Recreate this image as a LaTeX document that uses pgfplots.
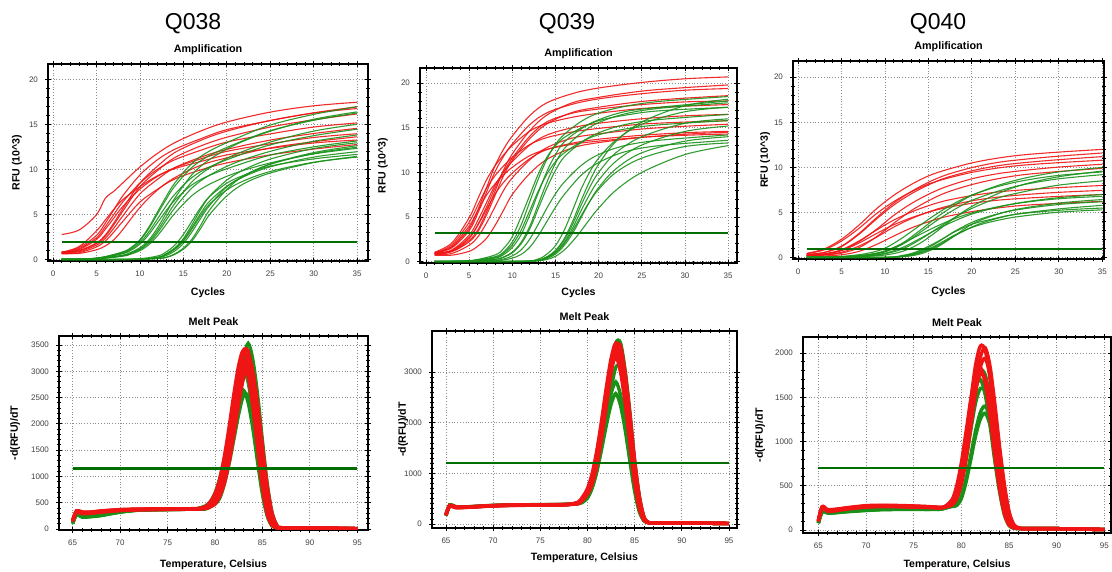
\documentclass[border=0pt]{standalone}
\usepackage{fontspec}
\setmainfont{Liberation Sans}
\usepackage{pgfplots}
\usepackage{pgfplotstable}
\pgfplotsset{compat=1.18}

\definecolor{cred}{RGB}{240,20,20}
\definecolor{cgreen}{RGB}{25,145,25}
\definecolor{thrgreen}{RGB}{0,110,0}

\pgfplotsset{
  qpcr/.style={
    scale only axis, anchor=south west,
    axis line style={line width=0.75pt},
    grid=major, major grid style={densely dotted, black!45, line width=0.4pt},
    tick align=center, tick style={black, line width=0.4pt},
    major tick length=3pt, minor tick length=1.6pt,
    ticklabel style={font=\fontsize{4}{5}\selectfont, text=black!75},
    /pgf/number format/assume math mode=true,
    /pgf/number format/set thousands separator={},
    scaled ticks=false,
    title style={font=\bfseries\fontsize{5.4}{6}\selectfont, at={(0.5,1)}, anchor=center, yshift=1pt},
    label style={font=\bfseries\fontsize{5.3}{6}\selectfont, anchor=center},
  },
  amp/.style={qpcr, xtick={0,5,...,35}, ytick={0,5,...,20}, minor x tick num=4, minor y tick num=4,
    title=Amplification, xlabel=Cycles, ylabel={RFU (10\textasciicircum 3)}},
  melt/.style={qpcr, xtick={65,70,...,95}, minor x tick num=4,
    title=Melt Peak, xlabel={Temperature, Celsius}, ylabel={-d(RFU)/dT}},
  rc/.style={cred, line width=0.55pt, smooth, tension=0.55, no markers, opacity=0.9},
  gc/.style={cgreen, line width=0.55pt, smooth, tension=0.55, no markers, opacity=0.9},
  rm/.style={cred, line width=1.7pt, smooth, tension=0.5, no markers},
  gm/.style={cgreen, line width=1.7pt, smooth, tension=0.5, no markers},
  thr/.style={thrgreen, line width=1.1pt, no markers},
}

% ---------- Q038 amplification ----------
\pgfplotstableread{
x   r1   r2    r3    r4    r5    r6    r7    r8    r9    r10
1   2.8  0.84  0.80  0.76  0.73  0.70  0.80  0.64  0.69  0.85
3   3.3  1.34  0.97  1.22  0.88  1.12  1.46  0.77  0.69  1.02
5   5.0  2.69  1.78  2.43  1.61  2.24  3.19  1.41  1.10  1.87
6   6.8  4.03  2.59  3.65  2.34  3.36  4.39  2.05  1.52  2.72
7   7.6  5.54  3.89  5.02  3.50  4.62  5.59  3.07  2.21  4.08
8   8.5  7.06  5.35  6.38  4.82  5.88  6.65  4.22  3.31  5.61
10  10.3 9.41  8.10  8.51  7.30  7.84  8.11  6.40  5.80  8.50
12  11.8 11.09 9.88  10.03 8.91  9.24  9.31  7.81  7.73  10.37
14  13.0 12.26 11.34 11.10 10.22 10.22 10.11 8.96  9.11  11.90
17  14.3 13.44 12.64 12.16 11.39 11.20 10.91 9.98  10.49 13.26
20  15.3 14.45 13.61 13.07 12.26 12.04 11.64 10.75 11.32 14.28
25  16.4 15.46 14.74 13.98 13.29 12.88 12.37 11.65 12.42 15.47
30  17.1 16.30 15.55 14.74 14.02 13.58 12.97 12.29 13.11 16.32
35  17.5 16.80 16.20 15.20 14.60 14.00 13.30 12.80 13.66 17.00
}\ampAr
\pgfplotstableread{
x   g1    g2    g3    g4    g5    g6    g7    g8
1   0.05  0.05  0.05  0.04  0.04  0.04  0.04  0.05
5   0.17  0.16  0.12  0.15  0.13  0.10  0.11  0.13
8   0.85  0.82  0.46  0.73  0.66  0.38  0.42  0.50
9   1.36  1.30  0.76  1.16  1.06  0.63  0.70  0.83
10  2.21  2.12  1.22  1.89  1.72  1.00  1.12  1.33
11  3.57  3.42  1.98  3.05  2.77  1.63  1.82  2.16
12  5.27  5.05  3.19  4.50  4.09  2.63  2.94  3.49
13  6.97  6.68  4.71  5.95  5.41  3.88  4.34  5.15
14  8.50  8.15  6.23  7.25  6.60  5.13  5.74  6.81
16  10.71 10.27 8.66  9.14  8.32  7.13  7.98  9.46
18  12.07 11.57 10.18 10.30 9.37  8.38  9.38  11.12
21  13.43 12.88 11.70 11.46 10.43 9.63  10.78 12.78
25  14.96 14.34 13.07 12.76 11.62 10.75 12.04 14.28
30  16.15 15.49 14.29 13.78 12.54 11.75 13.16 15.60
35  17.00 16.30 15.05 14.50 13.20 12.38 13.86 16.43
}\ampAg
\pgfplotstableread{
x   h1    h2    h3    h4    h5    h6    h7
1   0     0     0     0     0     0     0
9   0.04  0.03  0.04  0.02  0.03  0.02  0.05
12  0.26  0.20  0.24  0.12  0.23  0.13  0.40
13  0.65  0.45  0.60  0.23  0.57  0.26  0.85
14  1.30  0.95  1.20  0.58  1.14  0.64  1.60
15  2.34  1.80  2.16  1.16  2.05  1.28  2.80
16  3.90  3.10  3.60  2.09  3.42  2.30  4.30
17  5.59  4.60  5.16  3.48  4.90  3.84  5.80
18  7.02  6.00  6.48  4.99  6.16  5.50  7.00
20  8.84  8.10  8.16  7.08  7.75  7.81  8.50
22  10.01 9.30  9.24  8.47  8.78  9.34  9.40
25  11.18 10.60 10.32 9.63  9.80  10.62 10.40
30  12.35 11.80 11.40 10.79 10.83 11.90 11.20
35  13.00 12.50 12.00 11.48 11.40 12.67 11.70
}\ampAh

% ---------- Q039 amplification ----------
\pgfplotstableread{
x   q1    q2    q3    q4    q5    q6    q7    q8    q9    q10   q11   q12
1   1.04  0.99  0.97  0.93  1.06  0.83  0.77  0.73  0.86  0.73  0.90  0.95
3   1.66  1.19  1.55  1.12  2.11  1.32  0.92  1.17  1.72  0.73  1.26  1.90
5   3.73  2.38  3.49  2.23  4.93  2.97  1.85  2.63  4.00  1.16  2.70  4.42
6   5.80  3.56  5.43  3.35  7.04  4.62  2.77  4.09  5.72  1.74  4.14  6.32
7   8.28  5.54  7.76  5.21  9.15  6.60  4.31  5.84  7.44  2.61  6.12  8.22
8   10.76 7.92  10.09 7.44  10.74 8.58  6.16  7.59  8.72  4.06  8.28  9.64
9   12.63 10.30 11.83 9.67  11.97 10.07 8.01  8.91  9.72  5.80  10.08 10.74
10  14.08 12.08 13.19 11.35 13.02 11.22 9.39  9.93  10.58 7.54  11.61 11.69
12  16.35 14.65 15.33 13.76 14.61 13.04 11.40 11.53 11.87 9.86  14.04 13.11
14  17.80 16.43 16.68 15.44 15.49 14.19 12.78 12.56 12.58 11.46 15.66 13.90
17  18.84 17.82 17.65 16.74 16.19 15.02 13.86 13.29 13.16 12.76 16.65 14.54
20  19.46 18.41 18.24 17.30 16.63 15.51 14.32 13.72 13.51 13.34 17.10 14.93
25  20.08 19.11 18.82 17.95 17.16 16.01 14.86 14.16 13.94 13.92 17.60 15.41
30  20.49 19.50 19.21 18.32 17.42 16.34 15.17 14.45 14.16 14.28 17.90 15.64
35  20.70 19.80 19.40 18.60 17.60 16.50 15.40 14.60 14.30 14.50 18.00 15.80
}\ampBr
\pgfplotstableread{
x   e1    e2    e3    e4    e5    e6    e7    e8
1   0.04  0.04  0.04  0.03  0.03  0.03  0.04  0.03
5   0.09  0.08  0.10  0.07  0.08  0.05  0.07  0.04
8   0.56  0.40  0.75  0.25  0.47  0.15  0.27  0.10
9   1.11  0.80  1.50  0.50  0.95  0.30  0.53  0.20
10  2.22  1.60  2.80  0.99  1.90  0.65  1.07  0.40
11  4.07  3.00  5.00  1.98  3.48  1.30  2.14  0.80
12  6.66  5.20  7.40  3.63  5.69  2.50  3.92  1.60
13  9.25  7.70  9.80  5.94  7.90  4.20  6.41  2.90
14  11.47 10.10 11.70 8.25  9.80  6.00  8.90  4.50
15  13.14 12.00 13.00 10.23 11.22 7.60  11.04 6.10
16  14.25 13.40 13.90 11.72 12.17 8.90  12.64 7.50
18  15.73 14.90 15.00 13.37 13.43 10.80 14.42 9.70
20  16.65 15.90 15.80 14.44 14.22 12.00 15.58 11.10
23  17.39 16.80 16.40 15.35 14.85 13.00 16.55 12.30
27  17.95 17.30 16.90 15.92 15.33 13.60 17.18 13.00
35  18.50 18.00 17.30 16.50 15.80 14.20 17.80 13.60
}\ampBg
\pgfplotstableread{
x   l1    l2    l3    l4    l5    l6    l7
1   0     0     0     0     0     0     0
11  0.04  0.05  0.03  0.02  0.02  0.03  0.02
13  0.18  0.30  0.18  0.12  0.15  0.15  0.10
14  0.55  0.85  0.50  0.35  0.45  0.46  0.25
15  1.27  1.80  1.20  0.85  1.00  1.06  0.60
16  2.55  3.50  2.40  1.80  2.00  2.13  1.30
17  4.55  5.80  4.20  3.20  3.50  3.80  2.30
18  6.92  8.20  6.40  5.00  5.20  5.78  3.50
19  9.10  10.10 8.40  6.80  6.80  7.60  4.80
20  10.92 11.60 10.00 8.30  8.10  9.12  6.00
22  13.47 13.60 12.20 10.40 10.00 11.25 8.00
25  15.65 15.40 14.00 12.20 11.60 13.07 10.00
30  17.47 16.80 15.50 13.50 12.90 14.59 12.00
35  18.20 17.30 16.00 14.00 13.30 15.20 13.00
}\ampBh

% ---------- Q040 amplification ----------
\pgfplotstableread{
x   s1    s2    s3    s4    s5    s6    s7    s8    s9    s10
1   0.48  0.34  0.43  0.31  0.25  0.24  0.23  0.20  0.35  0.21
3   0.96  0.56  0.86  0.42  0.30  0.40  0.30  0.19  0.58  0.35
5   2.04  1.23  1.84  0.83  0.50  0.88  0.60  0.32  1.28  0.77
7   3.60  2.58  3.24  1.77  1.10  1.84  1.28  0.69  2.67  1.61
9   5.40  4.26  4.86  3.12  2.30  3.04  2.25  1.45  4.41  2.66
11  6.90  5.82  6.21  4.68  3.80  4.16  3.38  2.39  6.03  3.64
13  8.10  7.06  7.29  5.98  5.20  5.04  4.31  3.28  7.31  4.41
15  9.06  8.06  8.15  7.02  6.30  5.76  5.06  3.97  8.35  5.04
17  9.72  8.85  8.75  7.85  7.20  6.32  5.66  4.54  9.16  5.53
20  10.50 9.63  9.45  8.74  8.10  6.88  6.30  5.10  9.98  6.02
23  11.04 10.19 9.94  9.31  8.75  7.28  6.71  5.51  10.56 6.37
26  11.40 10.53 10.26 9.67  9.20  7.52  6.98  5.80  10.90 6.58
30  11.70 10.86 10.53 10.04 9.55  7.76  7.24  6.02  11.25 6.79
35  12.00 11.20 10.80 10.35 9.90  8.00  7.46  6.24  11.60 7.00
}\ampCr
\pgfplotstableread{
x   f1    f2    f3    f4    f5    f6    f7
1   0.05  0.06  0.05  0.04  0.04  0.04  0.05
5   0.10  0.14  0.09  0.07  0.07  0.10  0.08
8   0.30  0.48  0.28  0.17  0.21  0.34  0.15
10  0.70  1.05  0.64  0.43  0.49  0.75  0.29
12  1.60  2.19  1.47  0.95  1.12  1.56  0.69
14  3.00  3.56  2.76  1.98  2.10  2.55  1.57
16  4.50  4.89  4.14  3.23  3.15  3.50  2.94
18  5.80  6.03  5.34  4.43  4.06  4.32  4.41
20  6.90  6.94  6.35  5.46  4.83  4.96  5.68
23  8.00  7.89  7.36  6.62  5.60  5.64  7.10
26  8.80  8.55  8.10  7.31  6.16  6.12  8.13
30  9.50  9.12  8.74  8.04  6.65  6.53  8.97
35  10.00 9.50  9.20  8.51  7.00  6.80  9.60
}\ampCg
\pgfplotstableread{
x   k1    k2    k3    k4    k5
1   0     0     0     0     0
10  0.03  0.02  0.04  0.02  0.03
12  0.19  0.12  0.25  0.10  0.16
13  0.37  0.25  0.45  0.20  0.32
14  0.68  0.50  0.80  0.39  0.58
15  1.12  0.85  1.25  0.72  0.95
16  1.67  1.30  1.75  1.17  1.43
17  2.29  1.85  2.30  1.76  1.96
18  2.91  2.40  2.85  2.41  2.49
20  3.91  3.40  3.70  3.71  3.34
22  4.59  4.10  4.20  4.50  3.92
25  5.27  4.80  4.80  5.33  4.50
30  5.89  5.40  5.25  6.05  5.04
35  6.20  5.80  5.50  6.44  5.30
}\ampCh

% ---------- melt peaks ----------
\pgfplotstableread{
x     r1   r2   r3   r4   r5   r6
65    150  170  140  160  150  145
65.4  330  340  320  335  345  325
66    300  320  290  310  325  300
67    310  320  300  315  325  305
68    330  340  320  335  345  325
70    360  365  350  362  370  355
72    370  375  365  372  380  368
75    375  380  372  378  385  374
77    378  380  375  380  385  378
78    385  385  380  383  388  382
79    400  390  415  400  390  425
79.5  460  425  485  445  420  515
80    570  500  630  510  475  670
80.5  780  650  900  700  620  950
81    1145 925  1310 1025 880  1390
81.5  1665 1350 1845 1490 1285 1955
82    2290 1900 2425 2045 1805 2575
82.5  2910 2500 2935 2605 2375 3115
83    3380 3025 3200 3020 2875 3400
83.5  3380 3300 2910 3020 3135 3090
84    2860 3000 2305 2560 2850 2445
84.5  2080 2375 1530 1860 2255 1620
85    1195 1575 800  1070 1495 850
85.5  520  825  300  465  785  320
86    125  310  75   110  295  75
86.5  30   75   25   30   70   25
87    20   25   20   20   25   20
90    18   20   18   18   20   18
95    5    8    5    5    8    5
}\meltAr
\pgfplotstableread{
x     g1   g2   g3   g4   g5
65    110  120  100  115  105
65.4  280  290  270  285  275
66    235  245  225  240  230
67    245  250  235  248  240
68    265  270  255  268  260
70    325  330  320  328  322
72    362  365  358  364  360
75    372  374  370  373  371
77    376  378  375  377  376
78    380  382  380  381  380
79    380  400  430  400  440
79.5  425  440  480  430  520
80    535  485  600  470  680
80.5  695  660  800  585  960
81    990  970  1120 860  1350
81.5  1445 1410 1560 1250 1830
82    2035 1935 2000 1715 2380
82.5  2675 2465 2420 2185 2830
83    3235 2860 2640 2535 3070
83.5  3530 2860 2400 2535 2790
84    3210 2420 1900 2145 2210
84.5  2540 1760 1260 1560 1465
85    1685 1010 660  900  770
85.5  880  440  250  390  290
86    330  105  60   95   70
86.5  80   30   25   30   25
87    25   20   20   20   20
90    18   18   18   18   18
95    5    5    5    5    5
}\meltAg
\pgfplotstableread{
x     r1   r2   r3   r4   r5
65    180  190  170  185  175
65.4  360  370  355  365  350
66    330  340  325  335  322
67    330  335  328  332  326
68    340  345  338  342  336
70    360  365  358  362  356
72    370  375  368  372  366
75    375  380  374  378  372
77    380  382  378  381  377
78    385  388  384  386  383
79    430  400  425  400  425
79.5  540  475  520  485  500
80    700  585  675  595  650
80.5  1000 795  960  810  925
81    1460 1165 1405 1190 1350
81.5  2050 1695 1975 1730 1900
82    2700 2330 2600 2375 2500
82.5  3265 2970 3145 3025 3025
83    3565 3445 3430 3510 3300
83.5  3240 3445 3120 3510 3000
84    2565 2915 2470 2970 2375
84.5  1700 2120 1640 2160 1575
85    890  1220 860  1240 825
85.5  335  530  320  540  310
86    80   125  75   130  75
86.5  25   30   25   30   25
87    20   20   20   20   20
90    20   20   20   20   20
95    10   10   10   10   10
}\meltBr
\pgfplotstableread{
x     g1   g2   g3   g4
65    170  160  175  165
65.4  380  370  375  365
66    345  335  340  332
67    338  332  335  330
68    348  342  345  340
70    368  362  365  360
72    378  372  375  370
75    382  378  380  376
77    385  382  384  380
78    390  388  389  386
79    400  410  400  420
79.5  495  440  430  440
80    605  555  525  510
80.5  825  785  715  720
81    1210 1150 1045 1055
81.5  1760 1615 1520 1480
82    2420 2125 2090 1950
82.5  3080 2570 2660 2360
83    3575 2805 3090 2575
83.5  3575 2550 3090 2340
84    3025 2020 2610 1850
84.5  2200 1340 1900 1230
85    1265 700  1090 645
85.5  550  265  475  240
86    130  65   115  60
86.5  30   25   30   25
87    20   20   20   20
90    20   20   20   20
95    10   10   10   10
}\meltBg
\pgfplotstableread{
x     r1   r2   r3   r4   r5
65    100  110  95   105  100
65.4  250  260  245  255  265
66    215  225  210  220  230
67    225  232  220  228  238
68    240  248  236  244  252
70    262  270  258  266  275
72    268  275  264  272  280
75    262  268  258  265  272
77    256  260  252  258  262
78    252  255  250  253  256
79    300  280  340  290  285
79.5  435  350  495  370  370
80    675  520  760  570  550
80.5  1040 800  1115 880  850
81    1475 1175 1480 1250 1245
81.5  1870 1560 1750 1585 1660
82    2080 1845 1840 1760 1955
82.5  2030 1940 1655 1715 2060
83    1715 1745 1290 1450 1855
83.5  1195 1360 850  1010 1440
84    730  900  470  615  955
84.5  335  495  190  280  525
85    95   200  55   80   210
85.5  30   60   25   25   60
86    20   25   18   20   25
86.5  15   15   15   15   15
87    15   15   15   15   15
90    15   15   15   15   15
95    5    5    5    5    5
}\meltCr
\pgfplotstableread{
x     g1   g2   g3   g4   g5
65    80   85   75   82   78
65.4  210  215  205  212  208
66    195  198  190  196  193
67    200  203  196  201  199
68    210  214  206  212  208
70    225  230  220  228  224
72    235  238  230  236  233
75    235  238  232  236  234
77    235  238  233  236  234
78    240  242  238  240  239
79    270  290  330  265  290
79.5  290  340  455  275  380
80    375  520  700  355  585
80.5  580  800  1030 545  900
81    850  1135 1370 800  1280
81.5  1125 1440 1615 1065 1620
82    1330 1600 1700 1255 1800
82.5  1400 1560 1530 1320 1755
83    1260 1320 1190 1190 1485
83.5  980  920  785  925  1035
84    650  560  435  610  630
84.5  360  255  175  335  290
85    145  70   50   135  80
85.5  45   25   20   40   25
86    20   20   15   20   20
86.5  15   15   15   15   15
87    15   15   15   15   15
90    15   15   15   15   15
95    5    5    5    5    5
}\meltCg

\begin{document}
\begin{tikzpicture}
\path[use as bounding box] (0,0) rectangle (556pt,286pt);

\node[font=\fontsize{11.5}{13}\selectfont] at (96.5pt,274pt) {Q038};
\node[font=\fontsize{11.5}{13}\selectfont] at (283.5pt,274pt) {Q039};
\node[font=\fontsize{11.5}{13}\selectfont] at (469pt,274pt) {Q040};

% Q038 amplification
\begin{axis}[amp, at={(24pt,155.5pt)}, width=160pt, height=98.5pt,
  xmin=-0.58, xmax=36.25, ymin=-0.15, ymax=21.75,
  xlabel style={at={(axis description cs:0.5,-0.162)}},
  ylabel style={at={(axis description cs:-0.097,0.5)}}]
\pgfplotsinvokeforeach{r1,r2,r3,r4,r5,r6,r7,r8,r9,r10}{\addplot[rc] table[x=x,y=#1]{\ampAr};}
\pgfplotsinvokeforeach{g1,g2,g3,g4,g5,g6,g7,g8}{\addplot[gc] table[x=x,y=#1]{\ampAg};}
\pgfplotsinvokeforeach{h1,h2,h3,h4,h5,h6,h7}{\addplot[gc] table[x=x,y=#1]{\ampAh};}
\addplot[thr] coordinates {(1,2) (35,2)};
\end{axis}

% Q039 amplification
\begin{axis}[amp, at={(210pt,154.5pt)}, width=158.5pt, height=97.5pt,
  xmin=-0.7, xmax=36.03, ymin=-0.15, ymax=21.7,
  xlabel style={at={(axis description cs:0.5,-0.154)}},
  ylabel style={at={(axis description cs:-0.117,0.5)}}]
\pgfplotsinvokeforeach{q1,q2,q3,q4,q5,q6,q7,q8,q9,q10,q11,q12}{\addplot[rc] table[x=x,y=#1]{\ampBr};}
\pgfplotsinvokeforeach{e1,e2,e3,e4,e5,e6,e7,e8}{\addplot[gc] table[x=x,y=#1]{\ampBg};}
\pgfplotsinvokeforeach{l1,l2,l3,l4,l5,l6,l7}{\addplot[gc] table[x=x,y=#1]{\ampBh};}
\addplot[thr] coordinates {(1,3.2) (35,3.2)};
\end{axis}

% Q040 amplification
\begin{axis}[amp, at={(396.5pt,156.5pt)}, width=155.5pt, height=99pt,
  xmin=-0.58, xmax=35.2, ymin=-0.15, ymax=21.8,
  xlabel style={at={(axis description cs:0.5,-0.167)}},
  ylabel style={at={(axis description cs:-0.09,0.5)}}]
\pgfplotsinvokeforeach{s1,s2,s3,s4,s5,s6,s7,s8,s9,s10}{\addplot[rc] table[x=x,y=#1]{\ampCr};}
\pgfplotsinvokeforeach{f1,f2,f3,f4,f5,f6,f7}{\addplot[gc] table[x=x,y=#1]{\ampCg};}
\pgfplotsinvokeforeach{k1,k2,k3,k4,k5}{\addplot[gc] table[x=x,y=#1]{\ampCh};}
\addplot[thr] coordinates {(1,1) (35,1)};
\end{axis}

% Q038 melt peak
\begin{axis}[melt, at={(29.5pt,21pt)}, width=154.5pt, height=97pt,
  xmin=63.56, xmax=96.13, ymin=-19, ymax=3671,
  ytick={0,500,...,3500}, minor y tick num=4,
  xlabel style={at={(axis description cs:0.5,-0.18)}},
  ylabel style={at={(axis description cs:-0.142,0.5)}}]
\pgfplotsinvokeforeach{g1,g2,g3,g4,g5}{\addplot[gm] table[x=x,y=#1]{\meltAg};}
\pgfplotsinvokeforeach{r1,r2,r3,r4,r5,r6}{\addplot[rm] table[x=x,y=#1]{\meltAr};}
\addplot[thr] coordinates {(65,1150) (95,1150)};
\end{axis}

% Q039 melt peak
\begin{axis}[melt, at={(216pt,22pt)}, width=152.5pt, height=98.5pt,
  xmin=63.52, xmax=95.85, ymin=-79, ymax=3809,
  ytick={0,1000,...,3000}, minor y tick num=9,
  xlabel style={at={(axis description cs:0.5,-0.152)}},
  ylabel style={at={(axis description cs:-0.095,0.5)}}]
\pgfplotsinvokeforeach{g1,g2,g3,g4}{\addplot[gm] table[x=x,y=#1]{\meltBg};}
\pgfplotsinvokeforeach{r1,r2,r3,r4,r5}{\addplot[rm] table[x=x,y=#1]{\meltBr};}
\addplot[thr] coordinates {(65,1200) (95,1200)};
\end{axis}

% Q040 melt peak
\begin{axis}[melt, at={(401.5pt,19.5pt)}, width=154pt, height=98pt,
  xmin=63.39, xmax=95.7, ymin=-34, ymax=2181,
  ytick={0,500,...,2000}, minor y tick num=4,
  xlabel style={at={(axis description cs:0.5,-0.163)}},
  ylabel style={at={(axis description cs:-0.139,0.5)}}]
\pgfplotsinvokeforeach{g1,g2,g3,g4,g5}{\addplot[gm] table[x=x,y=#1]{\meltCg};}
\pgfplotsinvokeforeach{r1,r2,r3,r4,r5}{\addplot[rm] table[x=x,y=#1]{\meltCr};}
\addplot[thr] coordinates {(65,700) (95,700)};
\end{axis}
\end{tikzpicture}
\end{document}
